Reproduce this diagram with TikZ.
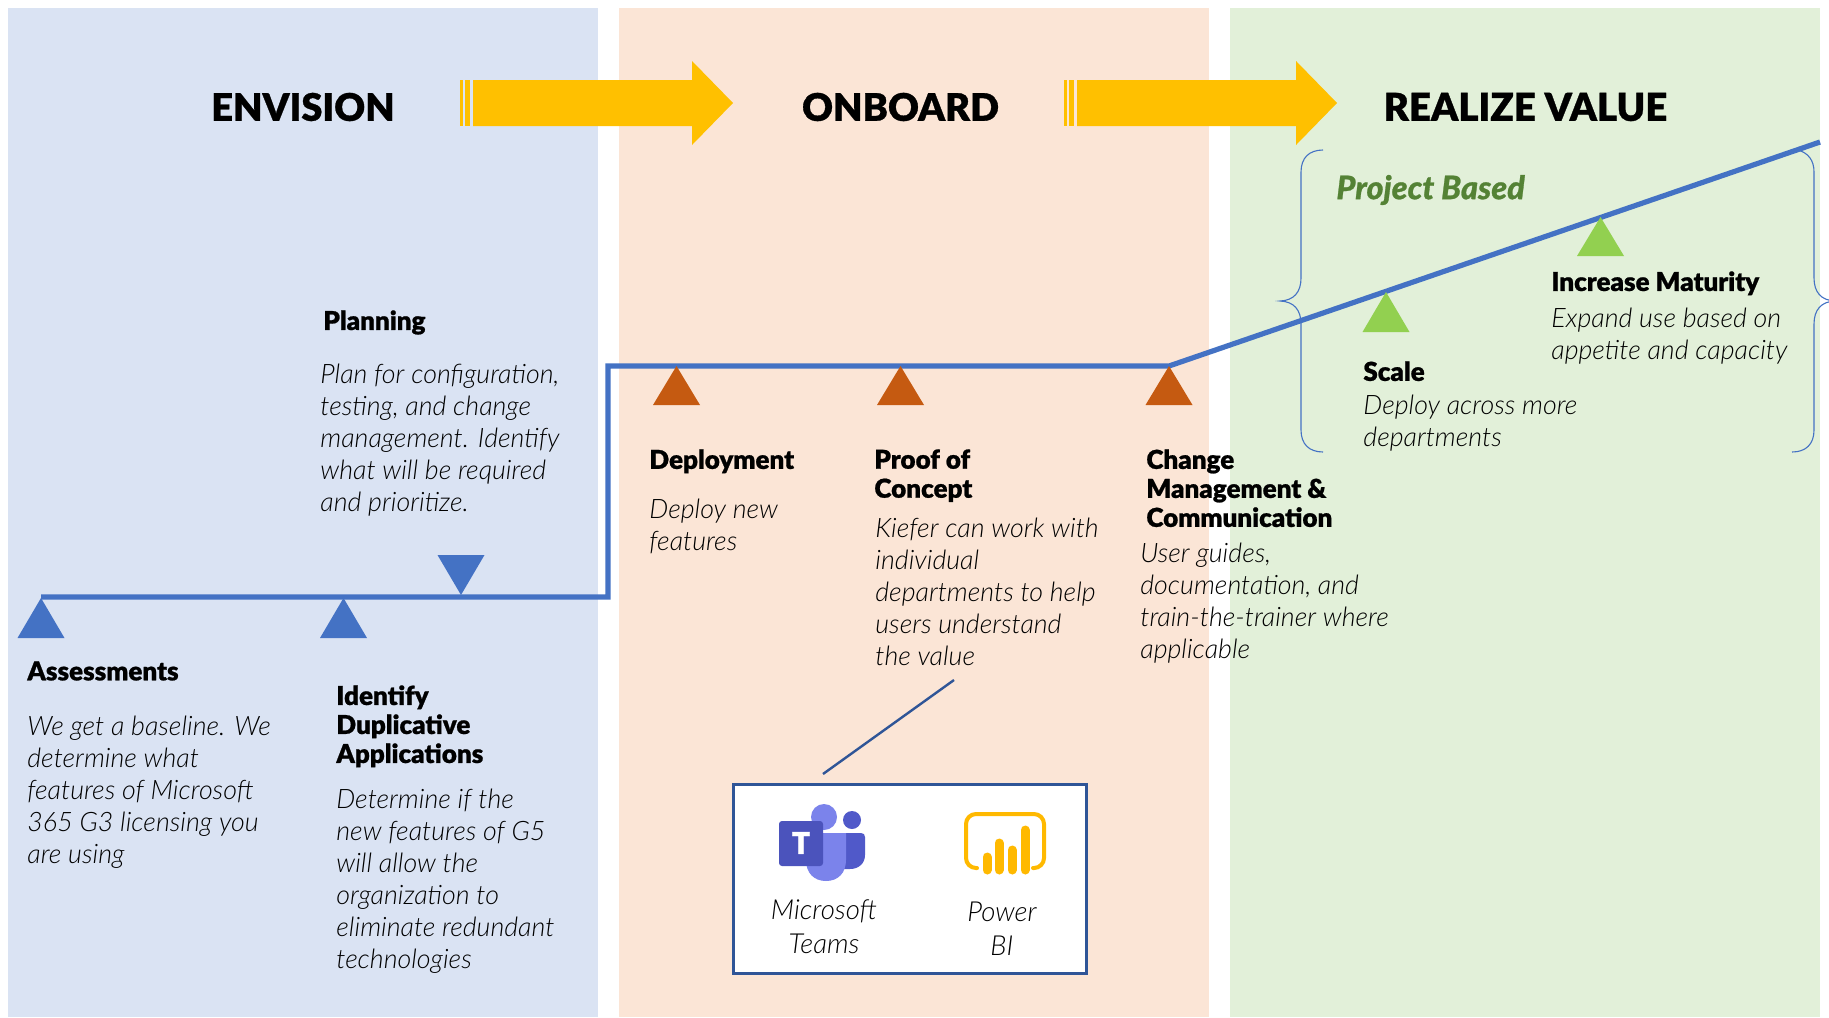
\documentclass[tikz,border=0pt]{standalone}
\usepackage{fontspec}
\setmainfont{Lato}[UprightFont=* Light,ItalicFont=* Light Italic,BoldFont=* Black,BoldItalicFont=* Black Italic,BoldFeatures={FakeBold=0.8},BoldItalicFeatures={FakeBold=0.8}]
\definecolor{pblue}{HTML}{DAE3F3}
\definecolor{ppeach}{HTML}{FBE5D6}
\definecolor{pgreen}{HTML}{E2F0D9}
\definecolor{lineblue}{HTML}{4472C4}
\definecolor{boxblue}{HTML}{2F5597}
\definecolor{gold}{HTML}{FFC000}
\definecolor{brownish}{HTML}{C55A11}
\definecolor{leaf}{HTML}{92D050}
\definecolor{pbgreen}{HTML}{548235}
\definecolor{tdark}{HTML}{4B53BC}
\definecolor{tmid}{HTML}{5059C9}
\definecolor{tlight}{HTML}{7B83EB}
\definecolor{pbi}{HTML}{FFB900}
\tikzset{
 x=0.5pt,y=-0.5pt,
 head/.style={anchor=north west,inner sep=0pt,align=left,font=\fontsize{13}{14.5}\selectfont\bfseries,text=black},
 body/.style={anchor=north west,inner sep=0pt,align=left,font=\fontsize{13.4}{16}\selectfont\itshape,text=black},
 title/.style={inner sep=0pt,font=\fontsize{19}{23}\selectfont\bfseries,text=black},
 boxtext/.style={inner sep=0pt,align=center,font=\fontsize{13.8}{17}\selectfont\itshape,text=black},
 tri/.style={fill=#1,draw=none},
 bluebrace/.style={draw=lineblue,line width=0.55pt},
}
\newcommand{\uptri}[4]{\fill[tri=#1] (#2,#3) -- (#2+23.5,#4) -- (#2-23.5,#4) -- cycle;}
\newcommand{\bigarrow}[1]{%
 \begin{scope}[xshift=#1*0.5pt]
 \fill[gold] (473,80) -- (692,80) -- (692,61) -- (733,103) -- (692,145) -- (692,126) -- (473,126) -- cycle;
 \fill[gold] (465,80) rectangle (470,126);
 \fill[gold] (460,80) rectangle (462.5,126);
 \end{scope}}
\begin{document}
\begin{tikzpicture}
\useasboundingbox (0,0) rectangle (1829,1017);
\clip (0,0) rectangle (1829,1017);
\fill[white] (0,0) rectangle (1829,1017);
\fill[pblue] (8,8) rectangle (598,1017);
\fill[ppeach] (619,8) rectangle (1209,1017);
\fill[pgreen] (1230,8) rectangle (1820,1017);
\bigarrow{0}
\bigarrow{604}
\node[title] (envision) at (303,107) {ENVISION};
\node[title] (onboard) at (900.5,107) {ONBOARD};
\node[title,font=\fontsize{19.2}{23}\selectfont\bfseries] (realize) at (1525.5,107) {REALIZE VALUE};
% braces
\draw[bluebrace] (1323,150) .. controls (1309,150) and (1301,158) .. (1301,172) -- (1301,278) .. controls (1301,292) and (1294,300.5) .. (1280,301) .. controls (1294,301.5) and (1301,310) .. (1301,324) -- (1301,430) .. controls (1301,444) and (1309,452) .. (1323,452);
\draw[bluebrace] (1798,150) .. controls (1808,153) and (1814,160) .. (1814,172) -- (1814,278) .. controls (1814,292) and (1821,300.5) .. (1835,301) .. controls (1821,301.5) and (1814,310) .. (1814,324) -- (1814,430) .. controls (1814,444) and (1806,452) .. (1792,452);
% timeline
\coordinate (p1) at (41,597);
\coordinate (p2) at (608,597);
\coordinate (p3) at (608,366);
\coordinate (p4) at (1169,366);
\coordinate (p5) at (1820,142);
\draw[lineblue,line width=2.6pt,line join=miter] (p1) -- (p2) -- (p3) -- (p4) -- (p5);
% triangles
\uptri{lineblue}{41}{598}{638}
\uptri{lineblue}{343.5}{598}{638}
\fill[tri=lineblue] (437.5,555) -- (484.5,555) -- (461,595) -- cycle;
\uptri{brownish}{676.5}{366}{405}
\uptri{brownish}{900.5}{366}{405}
\uptri{brownish}{1169}{366}{405}
\uptri{leaf}{1386}{292}{332}
\uptri{leaf}{1600.5}{217}{256}
% text
\node[head] (h1) at (323,310) {Planning};
\node[body] (b1) at (320,364) {Plan for configuration,\\testing, and change\\management. Identify\\what will be required\\and prioritize.};
\node[head] (h2) at (27,661) {Assessments};
\node[body] (b2) at (27,716) {We get a baseline. We\\determine what\\features of Microsoft\\365 G3 licensing you\\are using};
\node[head] (h3) at (336,685) {Identify\\Duplicative\\Applications};
\node[body] (b3) at (336,789) {Determine if the\\new features of G5\\will allow the\\organization to\\eliminate redundant\\technologies};
\node[head] (h4) at (649,449) {Deployment};
\node[body] (b4) at (649,499) {Deploy new\\features};
\node[head] (h5) at (874,449) {Proof of\\Concept};
\node[body] (b5) at (875,518) {Kiefer can work with\\individual\\departments to help\\users understand\\the value};
\node[head] (h6) at (1146,449) {Change\\Management \&\\Communication};
\node[body] (b6) at (1140,543) {User guides,\\documentation, and\\train-the-trainer where\\applicable};
\node[head] (h7) at (1363,361) {Scale};
\node[body] (b7) at (1363,395) {Deploy across more\\departments};
\node[head] (h8) at (1551,271) {Increase Maturity};
\node[body] (b8) at (1551,308) {Expand use based on\\appetite and capacity};
\node[inner sep=0pt,anchor=west,text=pbgreen,font=\fontsize{16.2}{18}\selectfont\bfseries\itshape] (pb) at (1336,190) {Project Based};
% box
\coordinate (c1) at (954,680);
\node[draw=boxblue,line width=1.5pt,fill=white,minimum width=176.5pt,minimum height=94.5pt,inner sep=0pt] (box) at (909.5,878.5) {};
\coordinate (c2) at (823,774);
\draw[boxblue,line width=1.2pt] (c1) -- (c2);
% teams icon
\fill[tmid] (843,833) -- (861,833) .. controls (863.5,833) and (865,834.5) .. (865,837) -- (865,855) .. controls (865,864) and (858,869) .. (850,869) -- (840,869) -- cycle;
\fill[tmid] (852,820) circle[radius=9];
\fill[tlight] (824,817) circle[radius=13];
\fill[tlight] (806,833) -- (846,833) -- (846,860) .. controls (846,873) and (838,881) .. (826,881) .. controls (814,881) and (806,873) .. (806,860) -- cycle;
\fill[tdark,rounded corners=1.5pt] (779,821) rectangle (823,866);
\node[inner sep=0pt,text=white,font=\fontsize{15}{16}\selectfont\bfseries] (tee) at (801,843) {T};
% power bi icon
\draw[pbi,line width=2pt,line cap=round,rounded corners=5pt] (977,868) -- (966,868) -- (966,814) -- (1044,814) -- (1044,868) -- (1033,868);
\draw[pbi,line width=4.5pt,line cap=round] (987,857) -- (987,870);
\draw[pbi,line width=4.5pt,line cap=round] (999,843) -- (999,870);
\draw[pbi,line width=4.5pt,line cap=round] (1012,850) -- (1012,870);
\draw[pbi,line width=4.5pt,line cap=round] (1025,830) -- (1025,870);
\node[boxtext] (ms) at (824,927) {Microsoft\\Teams};
\node[boxtext] (bi) at (1002,929) {Power\\BI};
\end{tikzpicture}
\end{document}
